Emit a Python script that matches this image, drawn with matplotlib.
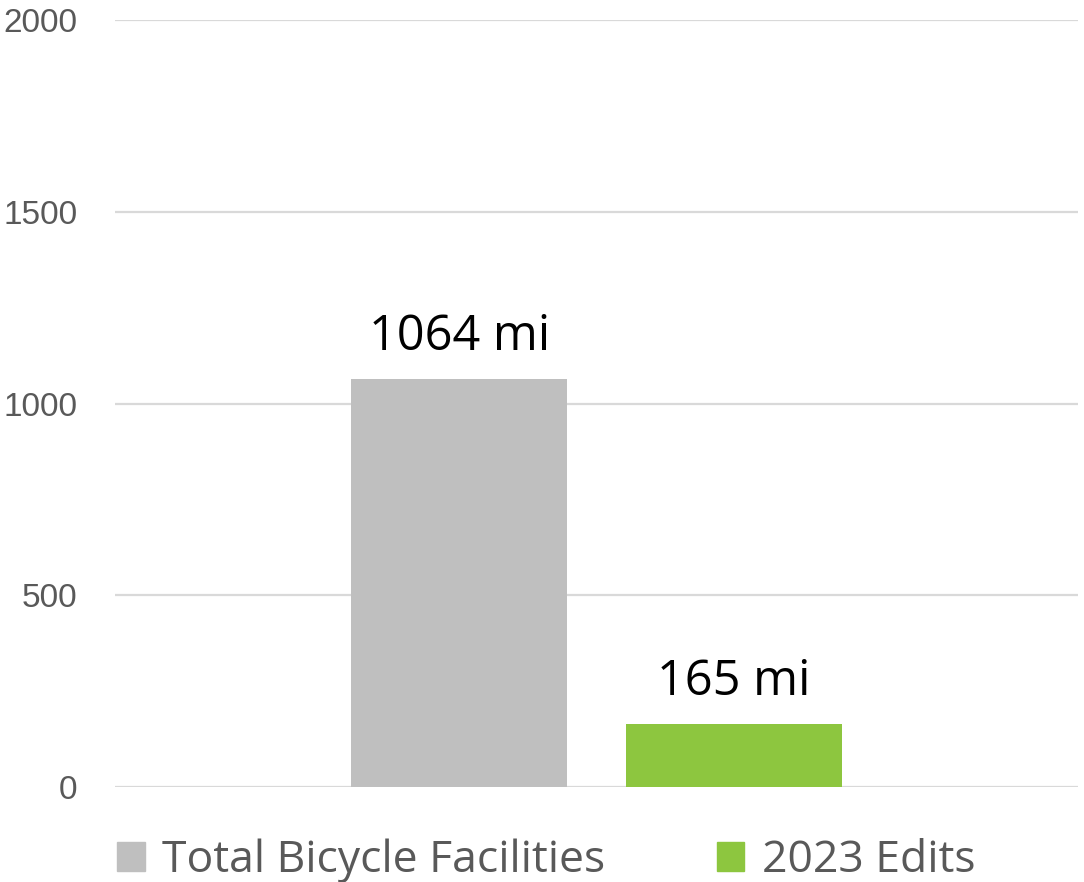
import matplotlib
matplotlib.use('Agg')
from matplotlib import pyplot as plt
from matplotlib.patches import Patch

series = ['Total Bicycle Facilities', '2023 Edits']
values = [1064, 165]
labels = ['1064 mi', '165 mi']
colors = ['#bfbfbf', '#8dc63f']
yticks = [0, 500, 1000, 1500, 2000]

fig = plt.figure(figsize=(10.84, 8.82), dpi=100)
ax = fig.add_axes([0.1061, 0.1077, 0.8884, 0.8696])

offsets = [-0.1425, 0.1425]
width = 0.224
for off, v, c, lab in zip(offsets, values, colors, labels):
    ax.bar(off, v, width=width, color=c, zorder=3)
    ax.annotate(lab, (off, v), xytext=(0, 12), textcoords='offset points',
                ha='center', va='bottom', fontsize=35, family='Open Sans',
                weight='medium', color='black')

ax.set_xlim(-0.5, 0.5)
ax.set_ylim(0, 2000)
ax.set_yticks(yticks)
ax.set_xticks([])
ax.grid(axis='y', color='#d9d9d9', linewidth=1.6, zorder=0)
for s in ax.spines.values():
    s.set_visible(False)
ax.tick_params(axis='y', length=0, pad=27, labelsize=24, labelcolor='#595959')
for t in ax.get_yticklabels():
    t.set_family('Liberation Sans')

handles = [Patch(color=c) for c in colors]
fig.legend(handles, series, loc='center', bbox_to_anchor=(0.504, 0.024), ncol=2,
           frameon=False, handlelength=0.62, handleheight=0.62, handletextpad=0.4,
           columnspacing=2.5, prop={'family': 'Open Sans', 'size': 32, 'weight': 'medium'},
           labelcolor='#595959')

fig.savefig('out.png', dpi=100)
